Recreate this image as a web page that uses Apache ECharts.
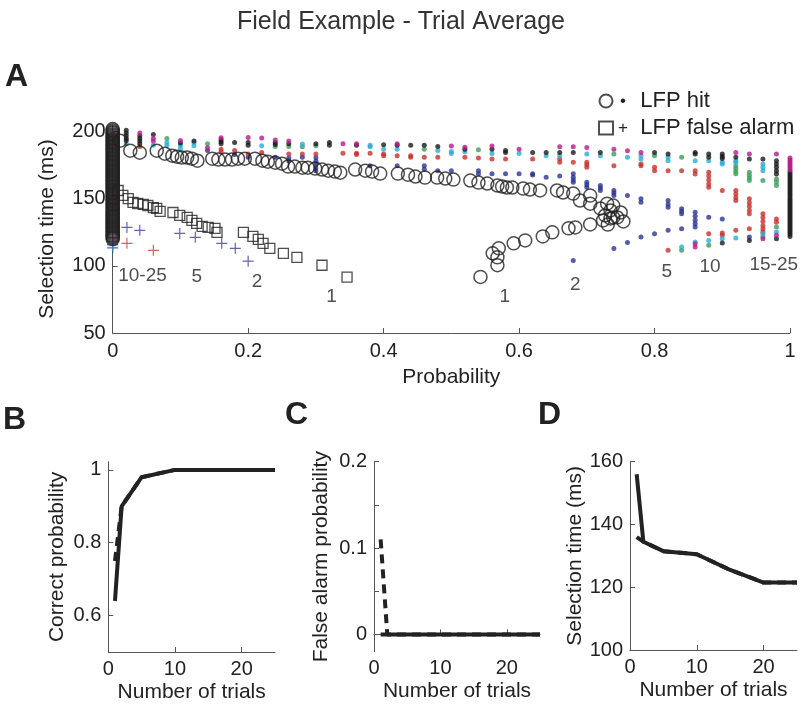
<!DOCTYPE html>
<html>
<head>
<meta charset="utf-8">
<script src="https://cdn.jsdelivr.net/npm/echarts@6/dist/echarts.min.js"></script>
<style>
html, body { margin: 0; padding: 0; background: #fff; }
#chart { width: 802px; height: 705px; }
</style>
</head>
<body>
<div id="chart"></div>
<script>
// ---------- panel A : selection time vs probability ----------
// open circles (LFP hit), [probability, ms]
const hitCircles = [
  [0.011,193.3],[0.026,185.9],[0.040,184.4],[0.065,185.9],[0.077,183.6],[0.088,182.1],[0.095,181.4],
  [0.102,180.7],[0.110,180.7],[0.117,179.9],[0.125,178.4],[0.147,179.9],[0.156,179.2],[0.166,179.2],
  [0.176,179.2],[0.185,179.9],[0.195,179.9],[0.210,179.9],[0.221,178.4],[0.229,177.7],[0.240,176.9],
  [0.250,176.2],[0.259,174.0],[0.269,174.0],[0.280,173.2],[0.288,173.2],[0.299,172.5],[0.309,171.8],
  [0.318,171.0],[0.328,170.3],[0.336,169.5],[0.358,171.8],[0.373,171.0],[0.383,170.3],[0.395,168.8],
  [0.421,168.8],[0.436,168.0],[0.447,166.6],[0.461,165.8],[0.479,165.8],[0.491,165.1],[0.503,164.3],
  [0.528,163.6],[0.540,162.1],[0.553,161.4],[0.568,159.9],[0.575,159.1],[0.582,158.4],[0.590,158.4],
  [0.606,157.6],[0.616,156.9],[0.631,156.2],[0.656,156.2],[0.665,154.7],[0.680,153.9],[0.690,148.7],
  [0.705,152.4],[0.705,146.4],[0.720,142.8],[0.730,146.4],[0.727,137.6],[0.735,141.3],[0.739,145.0],
  [0.745,136.1],[0.735,135.4],[0.750,139.8],[0.754,133.1],[0.731,130.8],
  // lower branch
  [0.543,91.8],[0.561,109.4],[0.570,113.1],[0.568,106.4],[0.568,100.5],[0.592,116.8],[0.609,119.0],
  [0.635,122.0],[0.649,125.0],[0.673,128.0],[0.683,128.7],[0.705,130.9],[0.724,133.9],[0.739,136.1]
];
// circles stacked at probability 0
const hitCirclesAtZero = [
  120,121,122,123,124,125,126,127,128,129,130,131,132,133,134,135,136,137,138,139,140,141,142,143,
  144,145,146,147,148,149,150,151,152,153,154,155,156,157,158,159,160,161,162,163,164,165,166,167,
  168,169,170,171,172,173,174,175,176,177,178,179,180,181,182,183,184,185,186,187,188,189,190,191,
  192,193,194,195,196,197,198,199,200,201,202
];
// open squares (LFP false alarm)
const faSquares = [
  [0.008,156.2],[0.015,152.5],[0.023,150.2],[0.030,147.3],[0.037,146.5],[0.045,145.8],[0.052,145.0],
  [0.060,143.5],[0.065,142.8],[0.070,140.6],[0.089,139.8],[0.099,137.6],[0.110,136.1],[0.117,133.9],
  [0.124,131.7],[0.132,129.4],[0.141,128.7],[0.151,127.9],[0.154,125.0],[0.193,125.0],[0.207,122.0],
  [0.215,119.8],[0.222,116.8],[0.232,113.1],[0.252,109.4],[0.272,106.4],[0.309,100.5],[0.346,91.6]
];
// plus markers (false alarm, per trial count)
const plusBlue = [[0.021,128.7],[0.040,126.5],[0.099,124.2],[0.122,121.3],[0.161,116.8],[0.181,113.1],[0.200,103.5],[0,116],[0,113.5]];
const plusRed = [[0.021,116.8],[0.060,111.6]];
const plusMagenta = [[0,150],[0,146],[0,142],[0,121],[0,118]];
const plusCyan = [[0,115]];

// small dots (hit, per trial count)
const dotsMagenta = [
  [0,199],[0.04,199],[0.06,195],[0.06,193],[0.10,193.5],[0.14,188],[0.16,195.5],[0.20,195.7],[0.22,195.3],
  [0.24,193.8],[0.26,193],[0.34,191],[0.36,191],[0.42,191],[0.50,189.4],[0.52,188.5],[0.56,189.4],
  [0.60,187],[0.66,188.8],[0.68,188.8],[0.70,188.3],[0.74,187],[0.76,185.9],[0.78,184.6],[0.92,184.6],
  [0.94,183.4],[0.98,183.4],[0.86,116.5],[0.86,114],[0.96,120.3],[0.98,122.8],
  [1,171.5],[1,173],[1,174.5],[1,176],[1,177.5],[1,179],[1,180.5]
];
const dotsBlack = [
  [0.02,201],[0.02,199],[0.02,197],[0.02,195],[0.02,193.5],[0.04,197],[0.04,195],[0.04,193],[0.04,191],
  [0.06,198],[0.10,191.5],[0.12,193],[0.16,194],[0.16,192.5],[0.16,191],[0.18,192],[0.20,192],[0.20,190],
  [0.24,192],[0.24,190.5],[0.26,191],[0.30,191],[0.32,192],[0.32,190],[0.36,190],[0.40,190.3],[0.42,190],
  [0.44,190],[0.46,190],[0.48,189],[0.52,187],[0.56,187],[0.58,186],[0.58,184.5],[0.62,184.6],[0.64,184.6],
  [0.66,184.6],[0.68,184.6],[0.72,184.6],[0.80,184.6],[0.82,183.4],[0.86,184.6],[0.86,183.4],[0.88,183.4],
  [0.88,181],[0.90,183.4],[0.90,181.5],[0.90,180],[0.92,180.9],[0.94,179.7],[0.96,179.7],[0.98,178.4],
  [0.98,176],[0.98,173.5],[0.98,171],[0.98,168.5],[0.90,117],[0.94,119],[0.98,120.3],
  [1,122],[1,123.5],[1,125],[1,126.5],[1,128],[1,129.5],[1,131],[1,132.5],[1,134],[1,135.5],[1,137],
  [1,138.5],[1,140],[1,141.5],[1,143],[1,144.5],[1,146],[1,147.5],[1,149],[1,150.5],[1,152],[1,153.5],
  [1,155],[1,156.5],[1,158],[1,159.5],[1,161],[1,162.5],[1,164],[1,165.5],[1,167],[1,168.5],[1,170]
];
const dotsCyan = [
  [0.02,191],[0.06,190],[0.08,192],[0.08,190],[0.10,190],[0.10,187.5],[0.12,192],[0.12,189.5],[0.22,189.6],
  [0.28,190.8],[0.38,190],[0.38,188.8],[0.40,187],[0.42,187],[0.48,186],[0.50,185.3],[0.50,183.8],[0.52,185],
  [0.56,183.8],[0.60,183.8],[0.64,182],[0.66,182],[0.70,183.3],[0.72,182],[0.76,180.9],[0.78,182],[0.78,179.7],
  [0.82,181],[0.82,178.4],[0.86,178.4],[0.88,178.4],[0.90,177.2],[0.90,176],[0.92,178.4],[0.92,177.2],
  [0.96,176],[0.96,173.5],[0.96,171],[0.84,114],[0.86,117.8],[0.88,119],[0.90,120.3],[0.92,120.8],
  [0.96,124],[0.98,125.2]
];
const dotsGreen = [
  [0.08,195],[0.14,191],[0.24,189],[0.26,189],[0.28,188.8],[0.30,189.5],[0.46,187],[0.54,186.6],[0.74,183.3],
  [0.80,182.1],[0.84,181],[0.92,174.7],[0.92,172.5],[0.92,170.5],[0.92,168.6],[0.94,169.7],[0.94,167.5],
  [0.94,165.5],[0.94,163.6],[0.96,163.6],[0.98,164.8],[0.98,162.5],[0.98,160],[0.84,111.6],[0.88,115.3],
  [0.96,122],[0.98,129]
];
const dotsRed = [
  [0.04,189],[0.16,187],[0.16,185],[0.18,186],[0.20,183.4],[0.22,184.6],[0.26,183.4],[0.28,183.4],[0.30,183.4],
  [0.34,184],[0.36,184],[0.36,183],[0.38,184],[0.40,183.4],[0.40,182],[0.42,182],[0.44,182],[0.44,181],
  [0.46,181],[0.48,181],[0.52,181],[0.54,180.4],[0.56,179.7],[0.58,179.7],[0.62,179.7],[0.66,179.7],
  [0.66,177.2],[0.68,177.2],[0.70,177.2],[0.70,175.3],[0.70,173.5],[0.74,174.7],[0.78,176],[0.78,174.7],
  [0.80,173.5],[0.80,171],[0.82,171],[0.84,171],[0.86,171],[0.86,168.4],[0.88,169.7],[0.88,167],[0.88,164],
  [0.88,161],[0.88,158.6],[0.90,156.2],[0.92,156.2],[0.92,153.5],[0.92,151],[0.92,148.7],[0.94,150],
  [0.94,147],[0.94,144.5],[0.94,141.5],[0.94,138.9],[0.96,138.9],[0.96,136],[0.96,133],[0.96,130],
  [0.96,127.5],[0.96,125.2],[0.98,135],[0.98,132.6],[0.82,111.6],[0.88,124],[0.90,122.8],[0.90,124.5],
  [0.92,126.5],[0.94,127.7]
];
const dotsBlue = [
  [0.14,186],[0.18,183],[0.20,180.9],[0.24,181],[0.26,180.5],[0.26,178.4],[0.28,181],[0.30,180.6],[0.30,178],
  [0.30,175.5],[0.30,173],[0.30,171],[0.38,174.7],[0.42,174.7],[0.46,174.7],[0.46,172],[0.48,171],[0.50,171],
  [0.54,171],[0.54,168.6],[0.56,168.6],[0.58,168.6],[0.60,168.6],[0.62,168.6],[0.62,167.8],[0.64,166],
  [0.66,167],[0.68,168.6],[0.68,166],[0.68,164],[0.68,162.3],[0.70,162.3],[0.70,160.5],[0.70,158.6],
  [0.72,159.9],[0.72,158],[0.72,156.2],[0.74,156.2],[0.74,154.3],[0.74,152.4],[0.76,152.4],[0.78,150],
  [0.78,147.5],[0.82,148.7],[0.82,146],[0.82,143.8],[0.84,142.6],[0.84,140.8],[0.84,138.9],[0.86,140],
  [0.86,137],[0.86,134],[0.86,131.5],[0.86,129],[0.88,136.3],[0.90,135],[0.68,104],[0.74,113],[0.76,117.5],
  [0.78,121.5],[0.80,124],[0.82,126.5],[0.84,127.7],[0.94,121.5]
];
// trial-count annotations in panel A
const annoText = ['10-25', '5', '2', '1', '1', '2', '5', '10', '15-25'];
const annoPos = [[0.044,93],[0.124,91.8],[0.213,88],[0.323,77],[0.579,77],[0.683,85.6],[0.818,95.5],[0.882,99.2],[0.976,100.5]];
const aYTicks = [50, 100, 150, 200];
const aXTicks = [0, 0.2, 0.4, 0.6, 0.8, 1];

// ---------- panels B, C, D : vs number of trials ----------
const trials = [1, 2, 5, 10, 15, 20, 25];
const correctSolid = [0.64, 0.9, 0.98, 1, 1, 1, 1];
const correctDashed = [0.75, 0.9, 0.98, 1, 1, 1, 1];
const faSolid = [0, 0, 0, 0, 0, 0, 0];
const faDashed = [0.11, 0, 0, 0, 0, 0, 0];
const selSolid = [156, 134.5, 131.5, 130.5, 125.5, 121.5, 121.5];
const selDashed = [136, 134.5, 131.5, 130.5, 125.5, 121.5, 121.5];
const trialTicks = [0, 10, 20];
const bYTicks = [0.6, 0.8, 1];
const cYTicks = [0, 0.1, 0.2];
const cYMinor = [0, 0.05, 0.1, 0.15, 0.2];
const dYTicks = [100, 120, 140, 160];

const FONT = "'Liberation Sans', Arial, Helvetica, sans-serif";
const INK = '#222';
const AXIS = '#555';
const PLUS = 'path://M0,5L10,5M5,0L5,10';
const TICK_FS = 20;
const NAME_FS = 21;

function axisCommon(extra, ticks, minor, margin) {
  return Object.assign({
    type: 'value',
    axisLine: { show: true, lineStyle: { color: AXIS, width: 1 } },
    axisTick: { show: true, inside: true, length: 5, lineStyle: { color: AXIS }, customValues: minor || ticks },
    axisLabel: { color: INK, fontSize: TICK_FS, fontFamily: FONT, margin: margin, customValues: ticks },
    splitLine: { show: false },
    nameLocation: 'middle',
    nameTextStyle: { color: INK, fontSize: NAME_FS, fontFamily: FONT }
  }, extra);
}

function dotSeries(data, color) {
  return {
    type: 'scatter', xAxisIndex: 0, yAxisIndex: 0, data: data,
    symbol: 'circle', symbolSize: 5, silent: true,
    itemStyle: { color: color }, z: 2
  };
}
function plusSeries(data, color) {
  return {
    type: 'scatter', xAxisIndex: 0, yAxisIndex: 0, data: data,
    symbol: PLUS, symbolSize: 11, silent: true,
    itemStyle: { color: 'transparent', borderColor: color, borderWidth: 1.2 }, z: 3
  };
}
function trialLine(idx, ys, dashed) {
  return {
    type: 'line', xAxisIndex: idx, yAxisIndex: idx,
    data: trials.map((t, i) => [t, ys[i]]),
    showSymbol: false, silent: true,
    lineStyle: { color: INK, width: 4, type: dashed ? [9, 6] : 'solid' },
    z: dashed ? 3 : 4
  };
}

const circleData = hitCircles.concat(hitCirclesAtZero.map(v => [0, v]));
const letterStyle = { fontSize: 32, fontWeight: 'bold', color: INK, fontFamily: FONT };

const chart = echarts.init(document.getElementById('chart'), null, { renderer: 'canvas' });
chart.setOption({
  animation: false,
  backgroundColor: '#fff',
  title: [
    { text: 'Field Example - Trial Average', left: 'center', top: 10, padding: 0,
      textStyle: { fontSize: 25, fontWeight: 'normal', color: '#333', fontFamily: FONT } },
    { text: 'A', left: 5, top: 61, padding: 0, textStyle: letterStyle },
    { text: 'B', left: 3, top: 404, padding: 0, textStyle: letterStyle },
    { text: 'C', left: 285, top: 399, padding: 0, textStyle: letterStyle },
    { text: 'D', left: 538, top: 399, padding: 0, textStyle: letterStyle }
  ],
  legend: {
    orient: 'vertical', left: 593, top: 85, itemGap: 5, itemWidth: 14, itemHeight: 13,
    data: [{ name: 'LFP hit' }, { name: 'LFP false alarm' }],
    formatter: name => (name === 'LFP hit' ? '{m|\u2022}' : '{m|+}') + '  ' + name,
    textStyle: {
      color: INK, fontSize: 22, fontFamily: FONT,
      rich: { m: { fontSize: 17, color: INK, fontFamily: FONT, width: 10, align: 'center' } }
    }
  },
  grid: [
    { left: 112.7, top: 125, width: 677.3, height: 208 },
    { left: 108.3, top: 461.7, width: 166.7, height: 190.3 },
    { left: 374, top: 461.7, width: 166, height: 190 },
    { left: 630, top: 461.7, width: 167, height: 188.3 }
  ],
  xAxis: [
    axisCommon({ gridIndex: 0, min: 0, max: 1, name: 'Probability', nameGap: 34 }, aXTicks, null, 8),
    axisCommon({ gridIndex: 1, min: 0, max: 25, name: 'Number of trials', nameGap: 29.5 }, trialTicks, null, 7),
    axisCommon({ gridIndex: 2, min: 0, max: 25, name: 'Number of trials', nameGap: 29.5 }, trialTicks, null, 7),
    axisCommon({ gridIndex: 3, min: 0, max: 25, name: 'Number of trials', nameGap: 29.5 }, trialTicks, null, 7)
  ],
  yAxis: [
    axisCommon({ gridIndex: 0, min: 50, max: 205, name: 'Selection time (ms)', nameGap: 55 }, aYTicks, null, 7),
    axisCommon({ gridIndex: 1, min: 0.5, max: 1.0225, name: 'Correct probability', nameGap: 41 }, bYTicks, null, 7),
    axisCommon({ gridIndex: 2, min: -0.02, max: 0.2, name: 'False alarm probability', nameGap: 42 }, cYTicks, cYMinor, 7),
    axisCommon({ gridIndex: 3, min: 100, max: 160, name: 'Selection time (ms)', nameGap: 44.5 }, dYTicks, null, 7)
  ],
  series: [
    dotSeries(dotsBlue, '#2d3590'),
    dotSeries(dotsRed, '#c8302a'),
    dotSeries(dotsGreen, '#3c9c5c'),
    dotSeries(dotsCyan, '#29abd4'),
    dotSeries(dotsBlack, '#1a1a1a'),
    dotSeries(dotsMagenta, '#b8198c'),
    {
      name: 'LFP hit', type: 'scatter', xAxisIndex: 0, yAxisIndex: 0, data: circleData,
      symbol: 'circle', symbolSize: 13, silent: true, z: 4,
      itemStyle: { color: 'transparent', borderColor: INK, borderWidth: 1.5 }
    },
    {
      name: 'LFP false alarm', type: 'scatter', xAxisIndex: 0, yAxisIndex: 0, data: faSquares,
      symbol: 'rect', symbolSize: 10, silent: true, z: 4,
      itemStyle: { color: 'transparent', borderColor: INK, borderWidth: 1.3 }
    },
    plusSeries(plusBlue, '#3b3f9a'),
    plusSeries(plusRed, '#d0393a'),
    plusSeries(plusMagenta, '#b8198c'),
    plusSeries(plusCyan, '#29abd4'),
    {
      type: 'scatter', xAxisIndex: 0, yAxisIndex: 0, symbolSize: 0, silent: true, z: 5,
      data: annoText.map((t, i) => ({ name: t, value: annoPos[i] })),
      label: { show: true, position: 'inside', formatter: '{b}', color: INK, fontSize: 19, fontFamily: FONT }
    },
    trialLine(1, correctDashed, true),
    trialLine(1, correctSolid, false),
    trialLine(2, faDashed, true),
    trialLine(2, faSolid, false),
    trialLine(3, selDashed, true),
    trialLine(3, selSolid, false)
  ]
});
</script>
</body>
</html>
